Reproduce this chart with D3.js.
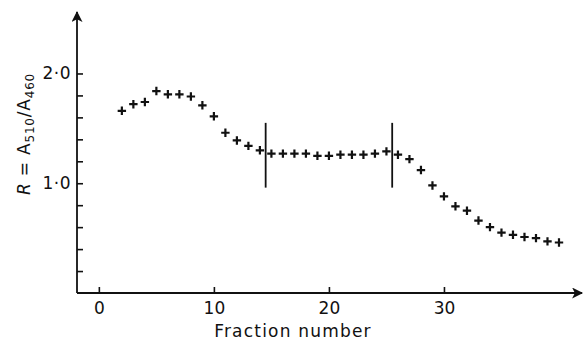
<!DOCTYPE html>
<html>
<head>
<meta charset="utf-8">
<script src="https://cdn.jsdelivr.net/npm/d3@7"></script>
<style>
    body { margin: 0; background: #fff; }
    svg { display: block; }
    text { font-family: "DejaVu Sans", sans-serif; fill: #111; }
</style>
</head>
<body>
<svg id="chart" width="587" height="347"></svg>
<script>
// fraction number vs absorbance ratio
const fractions = d3.range(2, 41);
const ratios = [
    1.66, 1.72, 1.74, 1.84, 1.81, 1.81, 1.79, 1.71, 1.61, 1.46,
    1.39, 1.34, 1.30, 1.27, 1.27, 1.27, 1.27, 1.25, 1.25, 1.26,
    1.26, 1.26, 1.27, 1.29, 1.26, 1.22, 1.12, 0.98, 0.88, 0.79,
    0.75, 0.66, 0.60, 0.55, 0.53, 0.51, 0.50, 0.47, 0.46
];
// pooled-fraction markers
const dividers = [14.5, 25.5];
const dividerRange = [0.96, 1.55];

const xTicks = [0, 10, 20, 30];
const yTicks = d3.range(1, 11).map(i => i / 5);
const yLabelled = [1, 2];

const svg = d3.select("#chart");

const x = d3.scaleLinear().domain([-1.9, 42]).range([77, 582]);
const y = d3.scaleLinear().domain([0, 2.56]).range([293, 12]);

const defs = svg.append("defs");
defs.append("marker")
    .attr("id", "arrow")
    .attr("viewBox", "0 0 10 10")
    .attr("refX", 9)
    .attr("refY", 5)
    .attr("markerUnits", "userSpaceOnUse")
    .attr("markerWidth", 13)
    .attr("markerHeight", 11)
    .attr("orient", "auto")
    .append("path")
    .attr("d", "M0,0 L10,5 L0,10 L2.5,5 Z")
    .attr("fill", "#111");

// axes lines with arrow heads
svg.append("line")
    .attr("x1", x(-1.9)).attr("y1", y(0))
    .attr("x2", x(-1.9)).attr("y2", y(2.56))
    .attr("stroke", "#111").attr("stroke-width", 1.8)
    .attr("marker-end", "url(#arrow)");
svg.append("line")
    .attr("x1", x(-1.9)).attr("y1", y(0))
    .attr("x2", x(42)).attr("y2", y(0))
    .attr("stroke", "#111").attr("stroke-width", 1.8)
    .attr("marker-end", "url(#arrow)");

// y ticks point inward, only 1·0 and 2·0 are labelled
const yAxis = svg.append("g")
    .attr("transform", `translate(${x(-1.9)},0)`)
    .call(d3.axisLeft(y)
        .tickValues(yTicks)
        .tickSize(-6)
        .tickPadding(6)
        .tickFormat(d => yLabelled.some(v => Math.abs(v - d) < 1e-6) ? d3.format(".1f")(d).replace(".", "·") : ""));
yAxis.select(".domain").remove();
yAxis.selectAll("line").attr("stroke", "#111").attr("stroke-width", 1.6);
yAxis.selectAll("text").attr("font-size", 17).attr("letter-spacing", 0.5).style("font-family", "DejaVu Sans");

const xAxis = svg.append("g")
    .attr("transform", `translate(0,${y(0)})`)
    .call(d3.axisBottom(x)
        .tickValues(xTicks)
        .tickSize(-6)
        .tickPadding(9)
        .tickFormat(d3.format("d")));
xAxis.select(".domain").remove();
xAxis.selectAll("line").attr("stroke", "#111").attr("stroke-width", 1.6);
xAxis.selectAll("text").attr("font-size", 17).style("font-family", "DejaVu Sans");

// axis titles
svg.append("text")
    .attr("x", 293)
    .attr("y", 337)
    .attr("text-anchor", "middle")
    .attr("font-size", 17)
    .attr("letter-spacing", 1.2)
    .text("Fraction number");

const yTitle = svg.append("text")
    .attr("transform", "translate(30,134) rotate(-90)")
    .attr("text-anchor", "middle")
    .attr("font-size", 17)
    .attr("letter-spacing", 0.8);
yTitle.append("tspan").attr("font-style", "italic").text("R");
yTitle.append("tspan").text(" = A");
yTitle.append("tspan").attr("font-size", 12).attr("dy", 4).text("510");
yTitle.append("tspan").attr("dy", -4).text("/A");
yTitle.append("tspan").attr("font-size", 12).attr("dy", 4).text("460");

// vertical dividers
svg.selectAll(".divider")
    .data(dividers)
    .join("line")
    .attr("class", "divider")
    .attr("x1", d => x(d)).attr("x2", d => x(d))
    .attr("y1", y(dividerRange[0])).attr("y2", y(dividerRange[1]))
    .attr("stroke", "#111").attr("stroke-width", 1.8);

// plus markers
const arm = 4.2;
svg.selectAll(".pt")
    .data(fractions.map((f, i) => ({ f, r: ratios[i] })))
    .join("path")
    .attr("class", "pt")
    .attr("d", d => {
        const cx = x(d.f), cy = y(d.r);
        return `M${cx - arm},${cy}H${cx + arm}M${cx},${cy - arm}V${cy + arm}`;
    })
    .attr("stroke", "#111")
    .attr("stroke-width", 2.2)
    .attr("fill", "none");
</script>
</body>
</html>
